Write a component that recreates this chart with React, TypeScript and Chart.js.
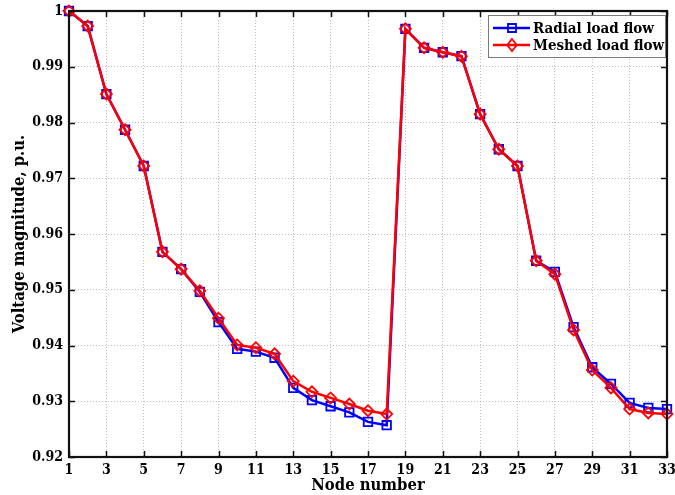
import React, { useEffect, useRef } from "react";
import { Chart, registerables } from "chart.js";

Chart.register(...registerables);

const nodes = [1, 2, 3, 4, 5, 6, 7, 8, 9, 10, 11, 12, 13, 14, 15, 16, 17, 18, 19, 20, 21, 22, 23, 24, 25, 26, 27, 28, 29, 30, 31, 32, 33];
const radial = [1.0, 0.9973, 0.9851, 0.9787, 0.9722, 0.9568, 0.9537, 0.9496, 0.9442, 0.9394, 0.9389, 0.9378, 0.9324, 0.9302, 0.9291, 0.928, 0.9263, 0.9257, 0.9968, 0.9934, 0.9926, 0.9919, 0.9815, 0.9752, 0.9722, 0.9552, 0.9532, 0.9433, 0.9361, 0.9331, 0.9297, 0.9288, 0.9286];
const meshed = [1.0, 0.9973, 0.9851, 0.9787, 0.9722, 0.9568, 0.9537, 0.9498, 0.9449, 0.9401, 0.9396, 0.9385, 0.9336, 0.9317, 0.9306, 0.9295, 0.9283, 0.9277, 0.9968, 0.9934, 0.9926, 0.9919, 0.9815, 0.9752, 0.9722, 0.9552, 0.9528, 0.9428, 0.9356, 0.9324, 0.9286, 0.9279, 0.9277];
const xTicks = [1, 3, 5, 7, 9, 11, 13, 15, 17, 19, 21, 23, 25, 27, 29, 31, 33];
const yTicks = [0.92, 0.93, 0.94, 0.95, 0.96, 0.97, 0.98, 0.99, 1.0];
const seriesNames = ["Radial load flow", "Meshed load flow"];
const xTitle = "Node number";
const yTitle = "Voltage magnitude, p.u.";

const FONT = "'DejaVu Serif Condensed', 'DejaVu Serif', serif";

const framePlugin = {
  id: "frame",
  afterDraw(chart: any) {
    const { ctx, chartArea: a, scales } = chart;
    const xs = scales.x;
    const ys = scales.y;
    ctx.save();
    // inward ticks
    ctx.strokeStyle = "#111";
    ctx.lineWidth = 1.5;
    const tl = 6;
    ctx.beginPath();
    xTicks.forEach((v) => {
      const px = Math.round(xs.getPixelForValue(v)) + 0.5;
      ctx.moveTo(px, a.bottom);
      ctx.lineTo(px, a.bottom - tl);
      ctx.moveTo(px, a.top);
      ctx.lineTo(px, a.top + tl);
    });
    yTicks.forEach((v) => {
      const py = Math.round(ys.getPixelForValue(v)) + 0.5;
      ctx.moveTo(a.left, py);
      ctx.lineTo(a.left + tl, py);
      ctx.moveTo(a.right, py);
      ctx.lineTo(a.right - tl, py);
    });
    ctx.stroke();
    // box
    ctx.lineWidth = 2.2;
    ctx.strokeRect(a.left, a.top, a.right - a.left, a.bottom - a.top);

    // axis titles
    ctx.fillStyle = "#000";
    ctx.font = `bold 16.5px ${FONT}`;
    ctx.textAlign = "center";
    ctx.textBaseline = "middle";
    ctx.fillText(xTitle, (a.left + a.right) / 2, 486);
    ctx.save();
    ctx.translate(20, (a.top + a.bottom) / 2);
    ctx.rotate(-Math.PI / 2);
    ctx.fillText(yTitle, 0, 0);
    ctx.restore();

    // legend
    const lx = 488, ly = 15, lw = 177, lh = 42;
    ctx.fillStyle = "#fff";
    ctx.fillRect(lx, ly, lw, lh);
    ctx.strokeStyle = "#7a7a7a";
    ctx.lineWidth = 1;
    ctx.strokeRect(lx + 0.5, ly + 0.5, lw, lh);
    ctx.font = `bold 15px ${FONT}`;
    ctx.textAlign = "left";
    ctx.textBaseline = "middle";
    const rows = [28, 45];
    chart.data.datasets.forEach((ds: any, i: number) => {
      const y = rows[i];
      ctx.strokeStyle = ds.borderColor;
      ctx.lineWidth = 2.5;
      ctx.beginPath();
      ctx.moveTo(493, y);
      ctx.lineTo(530, y);
      ctx.stroke();
      ctx.lineWidth = 1.8;
      ctx.beginPath();
      if (ds.pointStyle === "rect") {
        const r = 4;
        ctx.rect(512 - r, y - r, 2 * r, 2 * r);
      } else {
        const r = 6;
        ctx.moveTo(512, y - r);
        ctx.lineTo(512 + r * 0.8, y);
        ctx.lineTo(512, y + r);
        ctx.lineTo(512 - r * 0.8, y);
        ctx.closePath();
      }
      ctx.stroke();
      ctx.fillStyle = "#000";
      ctx.fillText(ds.label, 533, y + 1);
    });
    ctx.restore();
  },
};

export default function App() {
  const ref = useRef<HTMLCanvasElement | null>(null);
  useEffect(() => {
    if (!ref.current) return;
    const mk = (vals: number[]) => nodes.map((n, i) => ({ x: n, y: vals[i] }));
    const chart = new Chart(ref.current, {
      type: "line",
      data: {
        datasets: [
          {
            label: seriesNames[0],
            data: mk(radial),
            borderColor: "#0000ff",
            backgroundColor: "transparent",
            borderWidth: 2.5,
            pointStyle: "rect",
            pointRadius: 6,
            pointBorderWidth: 1.8,
            pointBackgroundColor: "transparent",
            pointBorderColor: "#0000ff",
            tension: 0,
            order: 1,
            clip: false,
          },
          {
            label: seriesNames[1],
            data: mk(meshed),
            borderColor: "#ff0000",
            backgroundColor: "transparent",
            borderWidth: 2.5,
            pointStyle: "rectRot",
            pointRadius: 5.5,
            pointBorderWidth: 1.8,
            pointBackgroundColor: "transparent",
            pointBorderColor: "#ff0000",
            tension: 0,
            order: 0,
            clip: false,
          },
        ],
      } as any,
      options: {
        animation: false,
        responsive: false,
        devicePixelRatio: 1,
        layout: { padding: { top: 11, right: 8, left: 0, bottom: 0 } },
        plugins: { legend: { display: false }, tooltip: { enabled: false } },
        scales: {
          x: {
            type: "linear",
            min: 1,
            max: 33,
            afterBuildTicks: (s: any) => {
              s.ticks = xTicks.map((v) => ({ value: v }));
            },
            afterFit: (s: any) => {
              s.height = 38;
              s.paddingLeft = 0;
              s.paddingRight = 0;
            },
            ticks: {
              autoSkip: false,
              maxRotation: 0,
              padding: 5,
              color: "#000",
              font: { family: FONT, size: 14, weight: "bold" },
              callback: (v: any) => String(v),
            },
            grid: { color: "rgba(150,150,150,0.6)", lineWidth: 1, drawTicks: false },
            border: { display: false, dash: [1, 2] },
          },
          y: {
            type: "linear",
            min: 0.92,
            max: 1.0,
            afterBuildTicks: (s: any) => {
              s.ticks = yTicks.map((v) => ({ value: v }));
            },
            afterFit: (s: any) => {
              s.width = 69;
              s.paddingTop = 0;
              s.paddingBottom = 0;
            },
            ticks: {
              padding: 6,
              color: "#000",
              font: { family: FONT, size: 14, weight: "bold" },
              callback: (v: any) => {
                const r = Math.round(v * 100) / 100;
                return r === 1 ? "1" : r.toFixed(2);
              },
            },
            grid: { color: "rgba(150,150,150,0.6)", lineWidth: 1, drawTicks: false },
            border: { display: false, dash: [1, 2] },
          },
        },
      } as any,
      plugins: [framePlugin],
    });
    return () => chart.destroy();
  }, []);
  return (
    <div style={{ position: "absolute", left: 0, top: 0, width: 675, height: 495, background: "#fff" }}>
      <canvas ref={ref} width={675} height={495} />
    </div>
  );
}
